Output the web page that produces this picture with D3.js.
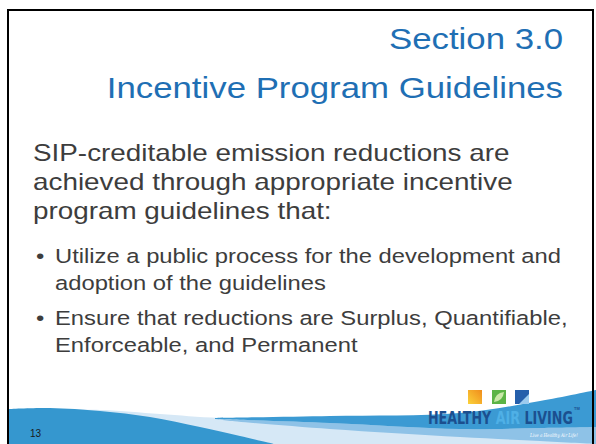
<!DOCTYPE html>
<html>
<head>
<meta charset="utf-8">
<script src="https://cdnjs.cloudflare.com/ajax/libs/d3/7.8.5/d3.min.js"></script>
<style>
body { margin: 0; background: #fff; }
svg { display: block; }
.title text { font: 30px "Liberation Sans", Arial, sans-serif; fill: #1f6fb4; text-anchor: end; }
.intro text { font: 24px "Liberation Sans", Arial, sans-serif; fill: #3d3d3d; }
.bullets text { font: 20.5px "Liberation Sans", Arial, sans-serif; fill: #3d3d3d; }
.pagenum { font: 10px "Liberation Sans", Arial, sans-serif; fill: #1a1a1a; }
</style>
</head>
<body>
<div class="target"></div>
<script>
var titleLines = ["Section 3.0", "Incentive Program Guidelines"];
var introLines = ["SIP-creditable emission reductions are",
                  "achieved through appropriate incentive",
                  "program guidelines that:"];
var bullets = [
  ["Utilize a public process for the development and", "adoption of the guidelines"],
  ["Ensure that reductions are Surplus, Quantifiable,", "Enforceable, and Permanent"]
];
var pageNumber = "13";
var logoWords = ["HEALTHY ", "AIR", " LIVING"];
var logoColors = ["#1b4f8f", "#4fb0e6", "#1b4f8f"];
var tagline = "Live a Healthy Air Life!";

var width = 596, height = 444;
// the slide text is drawn a little wider than it is tall
var stretch = 1.16;

var svg = d3.select(".target").append("svg")
  .attr("width", width)
  .attr("height", height);

// --- bottom wave decoration ---
var line = d3.line().curve(d3.curveCatmullRom);

function band(top, bottom) {
  return line(top) + "L" + line(bottom.slice().reverse()).slice(1) + "Z";
}

var lightTop = [[8, 410], [100, 410], [160, 414], [220, 418], [330, 420], [460, 413], [540, 402], [596, 392]];
svg.append("path")
  .attr("d", line(lightTop) + "L596,444L8,444Z")
  .attr("fill", "#d6e8f6");

var darkRightTop = [[215, 418], [330, 416], [460, 413], [540, 401], [596, 390]];
var darkRightBottom = [[215, 419], [330, 423], [460, 429], [540, 428], [596, 427]];
var midBottom = [[230, 421], [330, 429], [460, 437], [540, 441], [596, 444]];

svg.append("path")
  .attr("d", band(darkRightBottom, midBottom))
  .attr("fill", "#8ec2e7");
svg.append("path")
  .attr("d", band(darkRightTop, darkRightBottom))
  .attr("fill", "#3b9ad3");

var darkLeftTop = [[8, 409], [50, 408], [100, 411], [150, 417], [200, 427], [240, 436], [274, 444]];
svg.append("path")
  .attr("d", line(darkLeftTop) + "L8,444Z")
  .attr("fill", "#3597cf");

// --- logo ---
var logo = svg.append("g").attr("class", "logo");
var defs = svg.append("defs");
var sun = defs.append("linearGradient").attr("id", "sun")
  .attr("x1", 0).attr("y1", 1).attr("x2", 1).attr("y2", 0);
sun.append("stop").attr("offset", "0%").attr("stop-color", "#fbd23a");
sun.append("stop").attr("offset", "100%").attr("stop-color", "#f08c1c");

logo.append("rect").attr("x", 468).attr("y", 390).attr("width", 14).attr("height", 14).attr("fill", "url(#sun)");
logo.append("rect").attr("x", 492).attr("y", 390).attr("width", 14).attr("height", 14).attr("fill", "#5cb446");
logo.append("path").attr("d", "M494,402 Q495,393 504,392 Q503,401 494,402Z").attr("fill", "#c9e8a8");
logo.append("rect").attr("x", 515).attr("y", 390).attr("width", 14).attr("height", 14).attr("fill", "#255fab");
logo.append("path").attr("d", "M519,404 L529,394 L529,404Z").attr("fill", "#9ccbee");

var brand = logo.append("text")
  .style("font", "bold 18px 'Liberation Sans Narrow', 'DejaVu Sans Condensed', sans-serif");
brand.selectAll("tspan").data(logoWords).enter().append("tspan")
  .attr("fill", function(d, i) { return logoColors[i]; })
  .text(function(d) { return d; });
var brandW = brand.node().getComputedTextLength();
brand.attr("transform", "translate(428,424) scale(" + (145 / brandW) + ",1)");
logo.append("text").attr("x", 574).attr("y", 410)
  .style("font", "bold 4px sans-serif").attr("fill", "#1b4f8f").text("TM");
var tag = logo.append("text")
  .style("font", "italic 5px 'DejaVu Serif', serif").attr("fill", "#ffffff")
  .text(tagline);
tag.attr("transform", "translate(530,437) scale(" + (48 / tag.node().getComputedTextLength()) + ",1)");

svg.append("text").attr("class", "pagenum")
  .attr("x", 30).attr("y", 437).text(pageNumber);

// --- title ---
var titleY = d3.scaleLinear().domain([0, 1]).range([49, 98]);
svg.append("g").attr("class", "title")
  .selectAll("text").data(titleLines).enter().append("text")
  .attr("transform", function(d, i) { return "translate(563," + titleY(i) + ") scale(" + stretch + ",1)"; })
  .text(function(d) { return d; });

// --- intro paragraph ---
var introY = d3.scaleLinear().domain([0, 1]).range([161, 190]);
svg.append("g").attr("class", "intro")
  .selectAll("text").data(introLines).enter().append("text")
  .attr("transform", function(d, i) { return "translate(33," + introY(i) + ") scale(" + stretch + ",1)"; })
  .text(function(d) { return d; });

// --- bullets ---
var bulletY = d3.scaleLinear().domain([0, 1]).range([263, 325]);
var lineStep = 27;
var bg = svg.append("g").attr("class", "bullets")
  .selectAll("g").data(bullets).enter().append("g")
  .attr("transform", function(d, i) { return "translate(0," + bulletY(i) + ")"; });
bg.append("text").attr("transform", "translate(36,0) scale(" + stretch + ",1)").text("\u2022");
bg.selectAll("text.ln").data(function(d) { return d; }).enter().append("text")
  .attr("class", "ln")
  .attr("transform", function(d, i) { return "translate(55," + (i * lineStep) + ") scale(" + stretch + ",1)"; })
  .text(function(d) { return d; });

// --- frame ---
svg.append("rect")
  .attr("x", 8).attr("y", 10)
  .attr("width", 585).attr("height", 450)
  .attr("fill", "none").attr("stroke", "#000").attr("stroke-width", 2);
</script>
</body>
</html>
